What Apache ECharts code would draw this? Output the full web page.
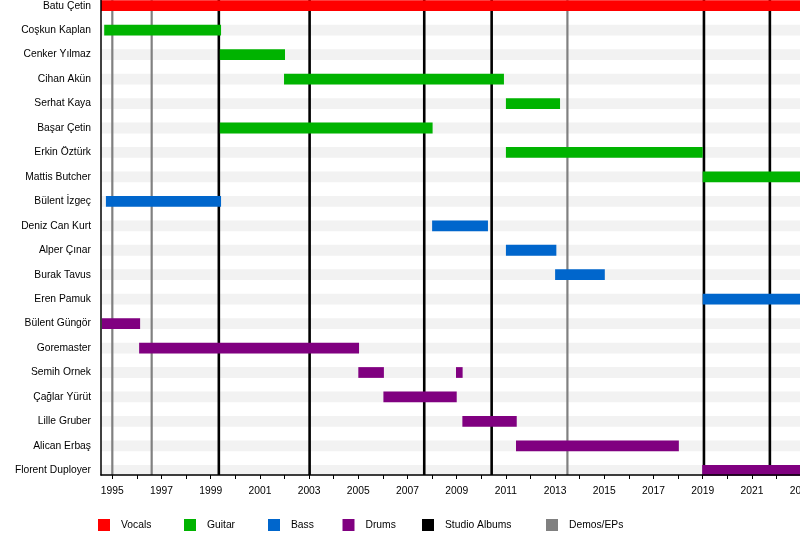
<!DOCTYPE html>
<html>
<head>
<meta charset="utf-8">
<script src="https://cdn.jsdelivr.net/npm/echarts@6/dist/echarts.min.js"></script>
<style>
html,body{margin:0;padding:0;background:#fff;}
#chart{width:800px;height:535px;}
</style>
</head>
<body>
<div id="chart"></div>
<script>
// ---- data ----
const members = ['Batu Çetin','Coşkun Kaplan','Cenker Yılmaz','Cihan Akün','Serhat Kaya','Başar Çetin','Erkin Öztürk','Mattis Butcher','Bülent İzgeç','Deniz Can Kurt','Alper Çınar','Burak Tavus','Eren Pamuk','Bülent Güngör','Goremaster','Semih Ornek','Çağlar Yürüt','Lille Gruber','Alican Erbaş','Florent Duployer'];
const startYear = 1994.54;
const endYear = 2024;
// [row, from, to]
const vocals = [[0, 1994.54, 2024]];
const guitar = [[1, 1994.67, 1999.42],[2, 1999.37, 2002.02],[3, 2001.98, 2010.92],[4, 2011.0, 2013.2],[5, 1999.37, 2008.02],[6, 2011.0, 2019.0],[7, 2019.0, 2024]];
const bass = [[8, 1994.74, 1999.42],[9, 2008.0, 2010.27],[10, 2011.0, 2013.05],[11, 2013.0, 2015.02],[12, 2019.0, 2024]];
const drums = [[13, 1994.58, 1996.13],[14, 1996.09, 2005.03],[15, 2005.0, 2006.04],[15, 2008.97, 2009.24],[16, 2006.02, 2009.0],[17, 2009.23, 2011.44],[18, 2011.41, 2018.03],[19, 2018.98, 2024]];
const studioAlbums = [1999.33, 2003.02, 2007.68, 2010.42, 2019.05, 2021.73];
const demosEPs = [1995.0, 1996.6, 2013.5];
const tickYears = [1995,1996,1997,1998,1999,2000,2001,2002,2003,2004,2005,2006,2007,2008,2009,2010,2011,2012,2013,2014,2015,2016,2017,2018,2019,2020,2021,2022,2023];
const labelYears = [1995,1997,1999,2001,2003,2005,2007,2009,2011,2013,2015,2017,2019,2021,2023];
const rows = members.map((_, i) => i);

// ---- rendering ----
const FONT = 'Liberation Sans, Arial, sans-serif';
const FS = 10.3;
const colors = {Vocals:'#ff0000', Guitar:'#00b300', Bass:'#0066cc', Drums:'#800080', 'Studio Albums':'#000000', 'Demos/EPs':'#808080'};

function renderBar(params, api){
  const row = api.value(0), s = api.value(1), e = api.value(2);
  const p1 = api.coord([s, row]);
  const p2 = api.coord([e, row]);
  const h = api.size([0, 1])[1] * 0.44;
  return {type:'rect', shape:{x:p1[0], y:p1[1]-h/2, width:p2[0]-p1[0], height:h}, style:{fill: api.visual('color')}};
}
function renderStripe(params, api){
  const row = api.value(0);
  const cs = params.coordSys;
  const p = api.coord([startYear, row]);
  const h = api.size([0, 1])[1] * 0.44;
  return {type:'rect', shape:{x:cs.x, y:p[1]-h/2, width:cs.width, height:h}, style:{fill:'#f2f2f2'}};
}
function makeLineRenderer(w){
  return function(params, api){
    const x = api.value(0);
    const cs = params.coordSys;
    const px = api.coord([x, 0])[0];
    return {type:'line', shape:{x1:px, y1:cs.y, x2:px, y2:cs.y+cs.height}, style:{stroke: api.visual('color'), lineWidth:w}};
  };
}
function barSeries(name, data){
  return {name, type:'custom', renderItem: renderBar, data, encode:{x:[1,2], y:0}, itemStyle:{color:colors[name]}, z:5, silent:true};
}

const legendPos = [['Vocals',98],['Guitar',184],['Bass',268],['Drums',342.5],['Studio Albums',422],['Demos/EPs',546]];

const option = {
  backgroundColor:'#fff',
  animation:false,
  textStyle:{fontFamily:FONT},
  grid:{left:101, top:0, height:475, width:(endYear-startYear)*24.6, outerBoundsMode:'none', containLabel:false},
  xAxis:{
    type:'value', min:startYear, max:endYear, z:10,
    splitLine:{show:false},
    axisLine:{show:true, onZero:false, lineStyle:{color:'#000', width:1.5}},
    axisTick:{show:true, length:4, lineStyle:{color:'#000'}, customValues: tickYears},
    axisLabel:{customValues: labelYears, formatter: v => String(v), color:'#000', fontSize:FS, fontFamily:FONT, margin:11}
  },
  yAxis:{
    type:'value', inverse:true, min:-0.235, max:19.192, z:10,
    splitLine:{show:false},
    axisLine:{show:true, onZero:false, lineStyle:{color:'#000', width:1.5}},
    axisTick:{show:false},
    axisLabel:{customValues: rows, formatter: v => members[v], color:'#000', fontSize:FS, fontFamily:FONT, margin:10}
  },
  legend: legendPos.map(([name, x]) => ({
    data:[name], left:x, top:519, padding:0, itemWidth:12, itemHeight:12, icon:'rect', selectedMode:false,
    textStyle:{fontSize:FS, color:'#000', fontFamily:FONT, padding:[0,0,0,6]}
  })),
  series:[
    {name:'stripes', type:'custom', renderItem: renderStripe, data: rows.map(r => [r]), encode:{y:0}, z:1, silent:true},
    {name:'Demos/EPs', type:'custom', renderItem: makeLineRenderer(2.2), data: demosEPs.map(v => [v]), encode:{x:0}, itemStyle:{color:colors['Demos/EPs']}, z:2, silent:true},
    {name:'Studio Albums', type:'custom', renderItem: makeLineRenderer(2.6), data: studioAlbums.map(v => [v]), encode:{x:0}, itemStyle:{color:colors['Studio Albums']}, z:3, silent:true},
    barSeries('Vocals', vocals),
    barSeries('Guitar', guitar),
    barSeries('Bass', bass),
    barSeries('Drums', drums)
  ]
};
const chart = echarts.init(document.getElementById('chart'), null, {renderer:'canvas', width:800, height:535});
chart.setOption(option);
</script>
</body>
</html>
